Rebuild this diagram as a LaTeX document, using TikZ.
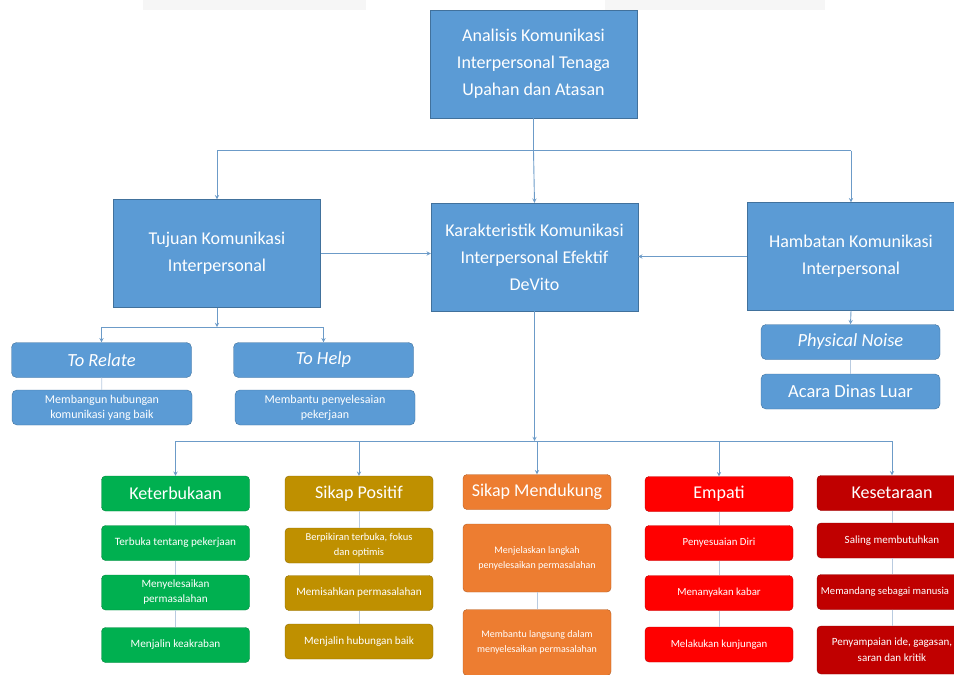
\documentclass[tikz,border=0pt]{standalone}
\usepackage{fontspec}
\setmainfont{Carlito}
\definecolor{boxblue}{HTML}{5B9BD5}
\definecolor{boxedge}{HTML}{41719C}
\definecolor{linkblue}{HTML}{6C9BC8}
\definecolor{stemgray}{HTML}{B9CBE0}
\definecolor{topgray}{HTML}{F6F6F6}
\definecolor{cgreen}{HTML}{00B050}
\definecolor{cgold}{HTML}{BF9000}
\definecolor{corange}{HTML}{ED7D31}
\definecolor{cred}{HTML}{FF0000}
\definecolor{cdarkred}{HTML}{C00000}
\begin{document}
\begin{tikzpicture}[x=1pt,y=-1pt,>=stealth,
  bigbox/.style={draw=boxedge, fill=boxblue, text=white, align=center, inner sep=0pt, minimum width=207pt, minimum height=108pt, font=\fontsize{18}{27}\selectfont},
  tagbox/.style={draw=boxedge, fill=boxblue, text=white, align=center, inner sep=0pt, rounded corners=5pt, minimum width=180pt, minimum height=35pt, font=\fontsize{18.5}{20}\selectfont},
  headbox/.style={draw=#1!75!black, fill=#1, text=white, rounded corners=4pt, inner sep=0pt, minimum width=148pt, minimum height=35pt, font=\fontsize{18}{20}\selectfont},
  itembox/.style={draw=#1!75!black, fill=#1, text=white, align=center, rounded corners=4pt, inner sep=0pt, minimum width=148pt, minimum height=35pt, font=\fontsize{11.2}{15}\selectfont},
  link/.style={draw=linkblue, line width=0.9pt},
  stem/.style={draw=stemgray, line width=0.8pt}]
\useasboundingbox (0,0) rectangle (954,675);
\fill[topgray] (143,0) rectangle (366,10);
\fill[topgray] (605,0) rectangle (825,10);
% main boxes
\node[bigbox] (a) at (533.5,64) {Analisis Komunikasi\\Interpersonal Tenaga\\Upahan dan Atasan};
\node[bigbox] (b) at (217,253.5) {Tujuan Komunikasi\\Interpersonal};
\node[bigbox] (c) at (534.5,257) {Karakteristik Komunikasi\\Interpersonal Efektif\\DeVito};
\node[bigbox] (d) at (851,256.5) {Hambatan Komunikasi\\Interpersonal};
% tujuan
\node[tagbox] (b1) at (101.5,360) {\itshape To Relate};
\node[tagbox] (b2) at (323.5,360) {\itshape To Help};
\node[tagbox, font=\fontsize{12}{15}\selectfont] (b11) at (102,407.5) {Membangun hubungan\\komunikasi yang baik};
\node[tagbox, font=\fontsize{12}{15}\selectfont] (b21) at (325,407.5) {Membantu penyelesaian\\pekerjaan};
% hambatan
\node[tagbox, minimum width=179pt] (d1) at (850.5,342) {\itshape Physical Noise};
\node[tagbox, minimum width=179pt] (d2) at (850.5,391.5) {Acara Dinas Luar};
% karakteristik
\node[headbox=cgreen] (e) at (175.5,493.5) {Keterbukaan};
\node[headbox=cgold] (f) at (359,493.5) {Sikap Positif};
\node[headbox=corange] (g) at (537,492) {Sikap Mendukung};
\node[headbox=cred] (h) at (719,494) {Empati};
\node[headbox=cdarkred, minimum width=150pt] (k) at (892,493) {Kesetaraan};
\node[itembox=cgreen] (e1) at (175.5,543) {Terbuka tentang pekerjaan};
\node[itembox=cgreen] (e2) at (175.5,592.5) {Menyelesaikan\\permasalahan};
\node[itembox=cgreen] (e3) at (175.5,645) {Menjalin keakraban};
\node[itembox=cgold, font=\fontsize{10.5}{15}\selectfont] (f1) at (359,545.5) {Berpikiran terbuka, fokus\\dan optimis};
\node[itembox=cgold] (f2) at (359,593) {Memisahkan permasalahan};
\node[itembox=cgold] (f3) at (359,641.5) {Menjalin hubungan baik};
\node[itembox=corange, minimum height=68pt, font=\fontsize{10}{15}\selectfont] (g1) at (537,558) {Menjelaskan langkah\\penyelesaikan permasalahan};
\node[itembox=corange, minimum height=66pt, font=\fontsize{10}{15}\selectfont] (g2) at (537,642.5) {Membantu langsung dalam\\menyelesaikan permasalahan};
\node[itembox=cred, font=\fontsize{10.8}{15}\selectfont] (h1) at (719,543) {Penyesuaian Diri};
\node[itembox=cred, font=\fontsize{10.8}{15}\selectfont] (h2) at (719,593) {Menanyakan kabar};
\node[itembox=cred, font=\fontsize{10.8}{15}\selectfont] (h3) at (719,644.5) {Melakukan kunjungan};
\node[itembox=cdarkred, minimum width=150pt, font=\fontsize{11}{16}\selectfont] (k1) at (892,540.5) {Saling membutuhkan};
\node[itembox=cdarkred, minimum width=150pt, font=\fontsize{10.6}{16}\selectfont] (k2) at (892,592) {Memandang sebagai manusia\hspace*{14pt}};
\node[itembox=cdarkred, minimum width=150pt, minimum height=48pt, font=\fontsize{11}{16}\selectfont] (k3) at (892,650) {Penyampaian ide, gagasan,\\saran dan kritik};
% connectors
\coordinate (ra) at (533.5,150.5);
\draw[link] (a.south) -- (ra);
\draw[link] (b.north |- ra) -- (d.north |- ra);
\draw[link,->] (b.north |- ra) -- (b.north);
\draw[link,->] (ra) -- (c.north);
\draw[link,->] (d.north |- ra) -- (d.north);
\draw[link,->] (b.east) -- (b.east -| c.west);
\draw[link,->] (d.west) -- (d.west -| c.east);
\coordinate (rb) at (217,327);
\draw[link,->] (b.south) -- (rb);
\draw[link] (b1.north |- rb) -- (b2.north |- rb);
\draw[link,->] (b1.north |- rb) -- (b1.north);
\draw[link,->] (b2.north |- rb) -- (b2.north);
\draw[stem] (b1) -- (b11);
\draw[link,->] (d.south) -- (d1.north);
\draw[stem] (d1) -- (d2);
\coordinate (rc) at (534.5,441);
\draw[link,->] (c.south) -- (rc);
\draw[link] (e.north |- rc) -- (k.north |- rc);
\foreach \n in {e,f,g,h,k}
  \draw[link,->] (\n.north |- rc) -- (\n.north);
\foreach \n in {e,f,h,k} {
  \draw[stem] (\n) -- (\n1);
  \draw[stem] (\n1) -- (\n2);
  \draw[stem] (\n2) -- (\n3);
}
\draw[stem] (g1) -- (g2);
\end{tikzpicture}
\end{document}
